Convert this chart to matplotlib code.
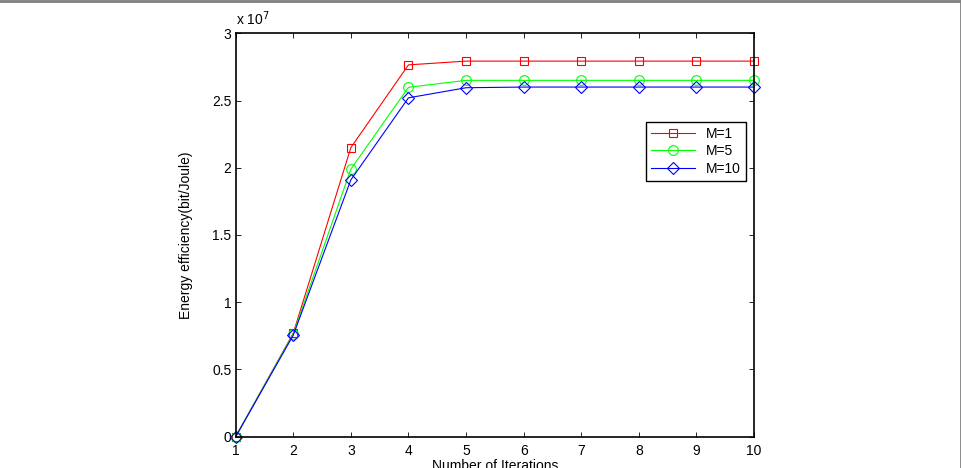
import matplotlib
matplotlib.use("Agg")
import matplotlib.pyplot as plt
from matplotlib.lines import Line2D
import numpy as np

plt.rcParams['font.family'] = ['Liberation Sans', 'DejaVu Sans']

iterations = [1, 2, 3, 4, 5, 6, 7, 8, 9, 10]
ee_m1 = [0.0, 0.77e7, 2.15e7, 2.765e7, 2.793e7, 2.793e7, 2.793e7, 2.793e7, 2.793e7, 2.793e7]
ee_m5 = [0.0, 0.765e7, 1.99e7, 2.598e7, 2.65e7, 2.65e7, 2.65e7, 2.65e7, 2.65e7, 2.65e7]
ee_m10 = [0.0, 0.755e7, 1.91e7, 2.52e7, 2.595e7, 2.6e7, 2.6e7, 2.6e7, 2.6e7, 2.6e7]
labels = ['M=1', 'M=5', 'M=10']

fig = plt.figure(figsize=(9.62, 4.68), dpi=100)
ax = fig.add_axes([0.245, 0.0669, 0.5388, 0.862])

ax.plot(iterations, ee_m1, color='red', lw=0.8, marker='s', ms=6.3,
        mfc='none', mec='red', mew=0.8, label=labels[0], clip_on=False)
ax.plot(iterations, ee_m5, color='#00ff00', lw=0.8, marker='o', ms=7,
        mfc='none', mec='#00ff00', mew=0.8, label=labels[1], clip_on=False)
ax.plot(iterations, ee_m10, color='blue', lw=0.8, marker='D', ms=6,
        mfc='none', mec='blue', mew=0.8, label=labels[2], clip_on=False)

ax.set_xlim(1, 10)
ax.set_ylim(0, 3e7)
ax.set_xticks(iterations)
yt = np.arange(0, 3.01e7, 0.5e7)
ax.set_yticks(yt)
ax.set_yticklabels(['0', '0.5', '1', '1.5', '2', '2.5', '3'])
ax.tick_params(direction='in', length=3.5, width=0.6, top=True, right=True,
               labelsize=10)
ax.tick_params(axis='x', pad=5)
ax.tick_params(axis='y', pad=3)
for s in ax.spines.values():
    s.set_linewidth(1.2)

ax.text(0.0, 1.012, r'x 10$^{7}$', transform=ax.transAxes, fontsize=10,
        ha='left', va='bottom')

ax.set_xlabel('Number of Iterations', fontsize=10, labelpad=1)
ax.set_ylabel('Energy efficiency(bit/Joule)', fontsize=10, labelpad=14)

leg = ax.legend(loc='upper right', bbox_to_anchor=(0.9846, 0.780),
                borderaxespad=0, fontsize=10, fancybox=False,
                edgecolor='black', framealpha=1, handlelength=3.2,
                labelspacing=0.25, borderpad=0.35)
leg.get_frame().set_linewidth(1.0)

# journal frame (top and right edges visible)
fig.add_artist(Line2D([0, 0.999], [0.998, 0.998], transform=fig.transFigure,
                      color='#808080', lw=2))
fig.add_artist(Line2D([0.9985, 0.9985], [0, 0.998], transform=fig.transFigure,
                      color='#808080', lw=2))

fig.savefig('out.png', dpi=100)
